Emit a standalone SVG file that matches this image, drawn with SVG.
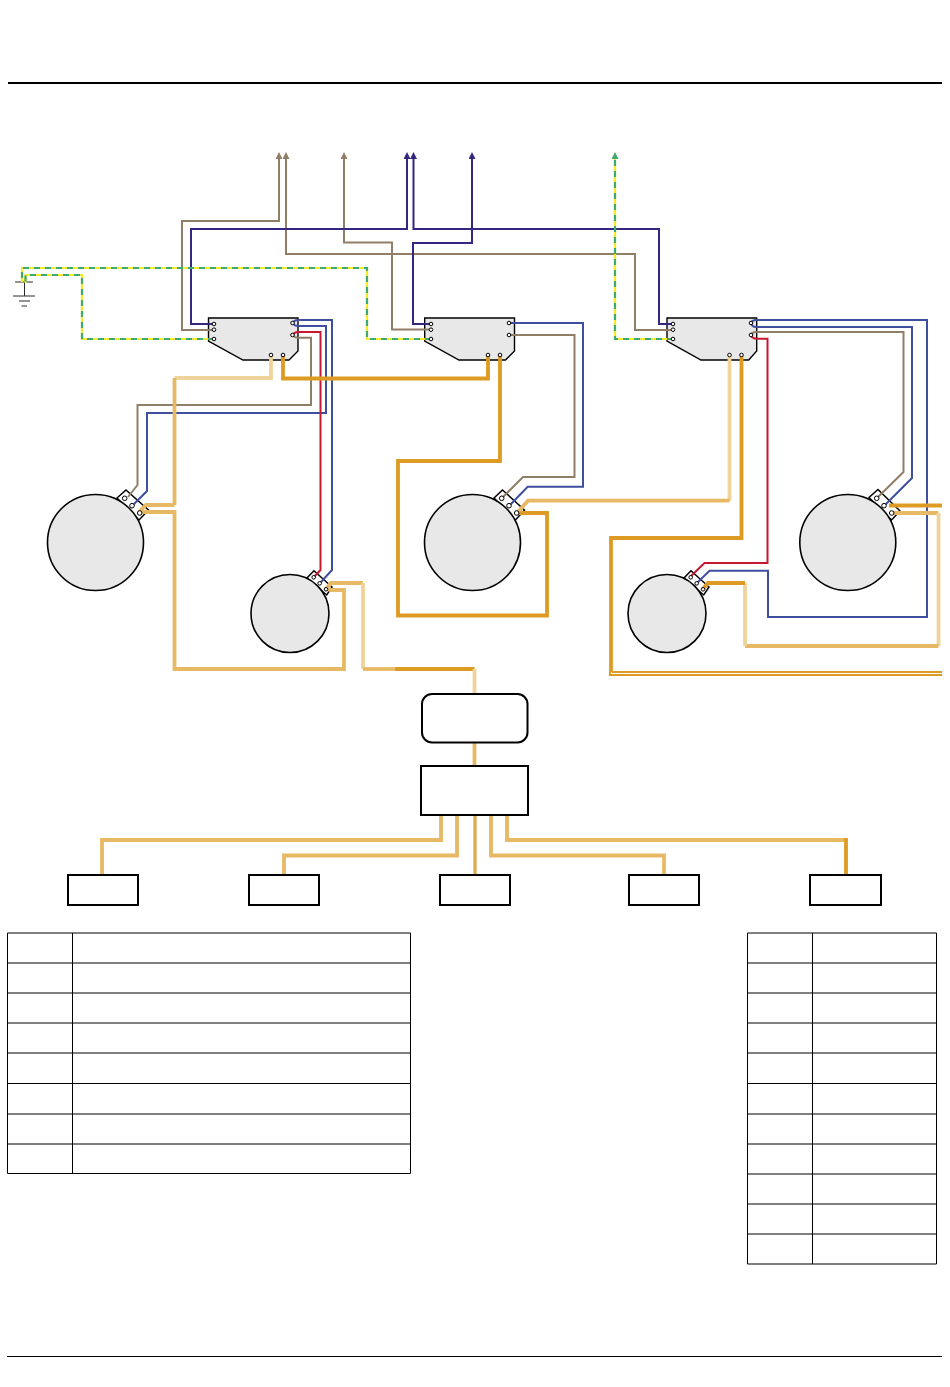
<svg xmlns="http://www.w3.org/2000/svg" width="950" height="1387" viewBox="0 0 950 1387">
<style>
.w{fill:none;stroke-linejoin:miter;stroke-linecap:butt}
.br{stroke:#917e66;stroke-width:2}
.db{stroke:#35277f;stroke-width:2}
.bl{stroke:#3e4f9f;stroke-width:2}
.rd{stroke:#c8182f;stroke-width:2}
.or{stroke:#de9b24;stroke-width:3.8}
.lt{stroke:#e8b964;stroke-width:3.8}
.pl{stroke:#f0d39b;stroke-width:3.8}
.ey{stroke:#f3ea2e;stroke-width:2.2}
.eg{stroke:#3fa96f;stroke-width:2.2;stroke-dasharray:6 5}
.sw{fill:#e8e8e8;stroke:#000;stroke-width:1.4}
.m{fill:#e8e8e8;stroke:#000;stroke-width:1.6}
.tb{fill:#fff;stroke:#000;stroke-width:1.5}
.t{fill:#fff;stroke:#000;stroke-width:1}
.bx{fill:#fff;stroke:#000;stroke-width:2}
.g{fill:none;stroke:#2a2a2a;stroke-width:1}
.tl{fill:none;stroke:#000;stroke-width:1}
</style>
<defs>
<marker id="ab" markerUnits="userSpaceOnUse" markerWidth="8" markerHeight="8" refX="3" refY="3.5" orient="auto"><path d="M0,0L7,3.500L0,7z" fill="#917e66"/></marker>
<marker id="ad" markerUnits="userSpaceOnUse" markerWidth="8" markerHeight="8" refX="3" refY="3.5" orient="auto"><path d="M0,0L7,3.500L0,7z" fill="#35277f"/></marker>
<marker id="ag" markerUnits="userSpaceOnUse" markerWidth="8" markerHeight="8" refX="3" refY="3.5" orient="auto"><path d="M0,0L7,3.500L0,7z" fill="#3fa96f"/></marker>
</defs>
<rect width="950" height="1387" fill="#fff"/>
<g id="rules">
<line x1="8" y1="83" x2="942" y2="83" stroke="#000" stroke-width="2"/>
<line x1="7" y1="1356.5" x2="942" y2="1356.5" stroke="#000" stroke-width="1"/>
</g>
<g id="ground"><path class="g" d="M15,282H33M24.5,282V296M13,296H35M19,301H30M21.5,306H27"/></g>
<g id="switch-1"><path class="sw" d="M208.5,318H298V351L289,360H243L208.5,341Z"/></g>
<g id="switch-2"><path class="sw" d="M424.7,318H514.5V351L505.5,360H459L424.7,341Z"/></g>
<g id="switch-3"><path class="sw" d="M667,318H756.7V351L748.7,360H701L667,341Z"/></g>
<g id="motor-1"><path class="tb" d="M126,490L148.500,510L139,520L117,498Z"/><circle class="m" cx="95.5" cy="542.5" r="48"/></g>
<g id="motor-2"><path class="tb" d="M314,570.7L332,587L326.7,595L307,578Z"/><circle class="m" cx="290" cy="613.5" r="39"/></g>
<g id="motor-3"><path class="tb" d="M502.500,490L524.500,510L515.500,520L494,498Z"/><circle class="m" cx="472.5" cy="542.5" r="48"/></g>
<g id="motor-4"><path class="tb" d="M691,570.7L709,587L703.7,595L684,578Z"/><circle class="m" cx="667" cy="613.5" r="39"/></g>
<g id="motor-5"><path class="tb" d="M878,489.500L900,511L891.500,520L869,497.500Z"/><circle class="m" cx="847.8" cy="542.5" r="48"/></g>
<g id="connectors">
<path class="w br" marker-end="url(#ab)" d="M214,330H182V221H279V156"/>
<path class="w br" marker-end="url(#ab)" d="M673,330H635V254H286V156"/>
<path class="w br" marker-end="url(#ab)" d="M431,329.5H392V242.500H344V156"/>
<path class="w db" marker-end="url(#ad)" d="M214,324H191V229H407V156"/>
<path class="w db" marker-end="url(#ad)" d="M673,324H659V229H413.5V156"/>
<path class="w db" marker-end="url(#ad)" d="M431,324H413V243H472V156"/>
<path class="w ey" d="M431,339H367V268H22V282"/>
<path class="w eg" d="M431,339H367V268H22V282"/>
<path class="w ey" d="M214,339H82V275H25.5V283"/>
<path class="w eg" d="M214,339H82V275H25.5V283"/>
<path class="w ey" d="M673,339H615V156"/>
<path class="w eg" marker-end="url(#ag)" d="M673,339H615V156"/>
<path class="w bl" d="M293,323Q294,320 298,320H332V570L321,582"/>
<path class="w bl" d="M293,323Q294,326 298,326H326V413H147V491L133,505"/>
<path class="w rd" d="M293,335Q294,332 298,332H320.5V570L313.7,577.3"/>
<path class="w br" d="M293,335Q294,337.7 298,337.7H311V405H137.5V485L128,497"/>
<path class="w bl" d="M509,323H583V486.7H527.7L510,505"/>
<path class="w br" d="M509,335H574.5V477H523L502,498"/>
<path class="w bl" d="M751,323Q752,320 756,320H927V617H768V570.7H709.5L697,583"/>
<path class="w bl" d="M751,323Q752,327 756,327H912V478L885,505"/>
<path class="w br" d="M751,335Q752,332 756,332H903.5V472L877,498"/>
<path class="w rd" d="M751,335Q752,338.7 757,338.7H767.5V563H704.5L690,577"/>
<path class="w pl" d="M271,355V378H174.500"/>
<path class="w lt" d="M174.5,378V505"/>
<path class="w lt" d="M174.5,505H146L139,512"/>
<path class="w lt" d="M139,512H174.5V669H344V590H331L326,589"/>
<path class="w lt" d="M326,589L331,583H363"/>
<path class="w pl" d="M363,583V669"/>
<path class="w lt" d="M363,669H395"/>
<path class="w or" d="M395,669H474.5"/>
<path class="w pl" d="M474.5,669V694"/>
<path class="w or" d="M283,355V378.5H488V355"/>
<path class="w or" d="M500,355V461H398V615.500H547V513H517"/>
<path class="w pl" d="M729.5,355V500.7"/>
<path class="w lt" d="M729.5,500.7H528L517,513"/>
<path class="w or" d="M741.5,355V538H611V672"/>
<path class="or w" style="stroke-width:2" d="M610,672V675H942M612,672H942"/>
<path class="w or" d="M889,505.5H942"/>
<path class="w lt" d="M892,513H938.5"/>
<path class="w pl" d="M938.5,513V646"/>
<path class="w lt" d="M938.5,646H745"/>
<path class="w pl" d="M745,646V583"/>
<path class="w or" d="M745,583H708L703,589"/>
<path class="w lt" d="M474.5,742V766"/>
<path class="w lt" d="M441,815V840H102V875"/>
<path class="w lt" d="M457,815V855.5H284V875"/>
<path class="w lt" style="stroke:#dfa84a;stroke-width:3.2" d="M475,815V875"/>
<path class="w lt" d="M491,815V855.5H664V875"/>
<path class="w lt" d="M507,815V840H846"/>
<path class="w or" d="M846,838V875"/>
</g>
<g id="terminals">
<circle class="t" cx="214" cy="324" r="1.8"/><circle class="t" cx="214" cy="329.7" r="1.8"/><circle class="t" cx="214" cy="339" r="1.8"/><circle class="t" cx="292.5" cy="323" r="1.8"/><circle class="t" cx="292.5" cy="335" r="1.8"/><circle class="t" cx="271" cy="355" r="1.8"/><circle class="t" cx="283" cy="355" r="1.8"/>
<circle class="t" cx="431" cy="324" r="1.8"/><circle class="t" cx="431" cy="329.7" r="1.8"/><circle class="t" cx="431" cy="339" r="1.8"/><circle class="t" cx="509" cy="323" r="1.8"/><circle class="t" cx="509" cy="335" r="1.8"/><circle class="t" cx="488" cy="355" r="1.8"/><circle class="t" cx="500" cy="355" r="1.8"/>
<circle class="t" cx="673" cy="324" r="1.8"/><circle class="t" cx="673" cy="329.7" r="1.8"/><circle class="t" cx="673" cy="339" r="1.8"/><circle class="t" cx="751" cy="323" r="1.8"/><circle class="t" cx="751" cy="335" r="1.8"/><circle class="t" cx="729.5" cy="355" r="1.8"/><circle class="t" cx="741.5" cy="355" r="1.8"/>
<circle class="t" cx="124.7" cy="498.3" r="2.3"/><circle class="t" cx="132" cy="505.7" r="2.3"/><circle class="t" cx="139.7" cy="513" r="2.3"/>
<circle class="t" cx="501.7" cy="498.3" r="2.3"/><circle class="t" cx="509" cy="505.7" r="2.3"/><circle class="t" cx="516.7" cy="513" r="2.3"/>
<circle class="t" cx="876.7" cy="498.3" r="2.3"/><circle class="t" cx="884" cy="505.7" r="2.3"/><circle class="t" cx="891.7" cy="513" r="2.3"/>
<circle class="t" cx="313.7" cy="577.3" r="1.8"/><circle class="t" cx="319.7" cy="583.3" r="1.8"/><circle class="t" cx="326" cy="589.3" r="1.8"/>
<circle class="t" cx="690.7" cy="577.3" r="1.8"/><circle class="t" cx="696.7" cy="583.3" r="1.8"/><circle class="t" cx="703" cy="589.3" r="1.8"/>
</g>
<g id="controller"><rect class="bx" x="422" y="694" width="105.5" height="48.5" rx="10"/></g>
<g id="distributor"><rect class="bx" x="421" y="766" width="107" height="49"/></g>
<g id="box-1"><rect class="bx" x="68" y="875" width="70" height="30"/></g>
<g id="box-2"><rect class="bx" x="249" y="875" width="70" height="30"/></g>
<g id="box-3"><rect class="bx" x="440" y="875" width="70" height="30"/></g>
<g id="box-4"><rect class="bx" x="629" y="875" width="70" height="30"/></g>
<g id="box-5"><rect class="bx" x="810" y="875" width="71" height="30"/></g>
<g id="table-left"><path class="tl" d="M7.5,933H410.5M7.5,963H410.5M7.5,993H410.5M7.5,1023H410.5M7.5,1053H410.5M7.5,1083.500H410.5M7.5,1114H410.5M7.5,1144H410.5M7.5,1173.500H410.5M7.5,933V1173.500M72.500,933V1173.500M410.5,933V1173.500"/></g>
<g id="table-right"><path class="tl" d="M747.5,933H936.5M747.5,963H936.5M747.5,993H936.5M747.5,1023H936.5M747.5,1053H936.5M747.5,1083.500H936.5M747.5,1114H936.5M747.5,1144H936.5M747.5,1174H936.5M747.5,1204H936.5M747.5,1234H936.5M747.5,1264H936.5M747.5,933V1264M812.5,933V1264M936.5,933V1264"/></g>
</svg>
